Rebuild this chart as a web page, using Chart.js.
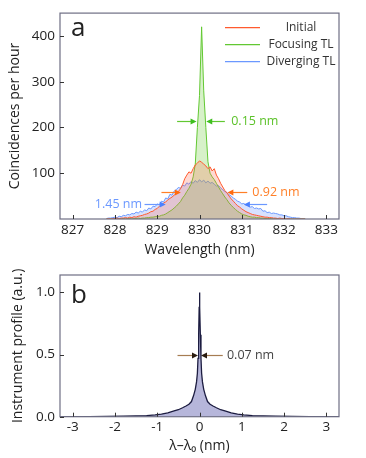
<!DOCTYPE html>
<html>
<head>
<meta charset="utf-8">
<script src="https://cdn.jsdelivr.net/npm/chart.js@4"></script>
<style>
  html, body { margin: 0; padding: 0; background: #fff; }
  #wrap { position: relative; width: 366px; height: 458px; }
  canvas { position: absolute; left: 0; }
  #chartA { top: 0; }
  #chartB { top: 258px; }
</style>
</head>
<body>
<div id="wrap">
  <canvas id="chartA" width="366" height="258"></canvas>
  <canvas id="chartB" width="366" height="200"></canvas>
</div>
<script>
// ---- panel a data (nm, coincidences per hour)
const wavelength = [
  827.80, 827.85, 827.90, 827.95,
  828.00, 828.05, 828.10, 828.15, 828.20, 828.25, 828.30, 828.35, 828.40, 828.45,
  828.50, 828.55, 828.60, 828.65, 828.70, 828.75, 828.80, 828.85, 828.90, 828.95,
  829.00, 829.05, 829.10, 829.15, 829.20, 829.25, 829.30, 829.35, 829.40, 829.45,
  829.50, 829.55, 829.60, 829.65, 829.70, 829.75, 829.80, 829.85, 829.90, 829.95,
  830.00, 830.05, 830.10, 830.15, 830.20, 830.25, 830.30, 830.35, 830.40, 830.45,
  830.50, 830.55, 830.60, 830.65, 830.70, 830.75, 830.80, 830.85, 830.90, 830.95,
  831.00, 831.05, 831.10, 831.15, 831.20, 831.25, 831.30, 831.35, 831.40, 831.45,
  831.50, 831.55, 831.60, 831.65, 831.70, 831.75, 831.80, 831.85, 831.90, 831.95,
  832.00, 832.05, 832.10, 832.15, 832.20,
  832.25, 832.30, 832.35, 832.40, 832.45, 832.50
];
const initial = [
  0, 1, 0, 1,
  1, 2, 1, 2, 2, 3, 2, 4, 3, 5,
  4, 6, 7, 8, 10, 11, 13, 16, 17, 21,
  23, 28, 30, 35, 37, 42, 45, 48, 52, 56,
  60, 66, 75, 88, 96, 103, 100, 110, 118, 122,
  127, 124, 120, 116, 110, 114, 105, 110, 96, 88,
  78, 70, 62, 57, 50, 44, 39, 34, 29, 26,
  22, 19, 16, 14, 12, 10, 9, 8, 7, 6,
  5, 4, 4, 3, 3, 2, 2, 1, 2, 1,
  1, 0, 1, 0, 0,
  0, 0, 0, 0, 0, 0
];
const focusing = [
  0, 0, 0, 0,
  0, 0, 1, 0, 1, 0, 1, 1, 0, 1,
  1, 2, 1, 2, 2, 3, 3, 4, 4, 5,
  6, 6, 8, 9, 11, 14, 17, 20, 24, 28,
  33, 38, 46, 52, 60, 67, 76, 92, 120, 200,
  270, 420, 280, 200, 125, 100, 92, 86, 78, 70,
  62, 55, 48, 42, 35, 30, 25, 21, 17, 14,
  11, 9, 8, 6, 5, 4, 4, 3, 3, 2,
  2, 1, 1, 1, 1, 0, 1, 0, 0, 1,
  0, 0, 0, 0, 0,
  0, 0, 0, 0, 0, 0
];
const diverging = [
  1, 2, 2, 3,
  4, 3, 6, 5, 8, 7, 10, 9, 12, 11,
  15, 13, 17, 15, 20, 18, 24, 22, 28, 27,
  33, 31, 39, 37, 46, 44, 54, 52, 61, 64,
  69, 67, 74, 72, 79, 76, 82, 78, 84, 80,
  86, 81, 85, 79, 83, 78, 80, 76, 72, 73,
  68, 64, 60, 58, 53, 50, 46, 43, 39, 37,
  33, 34, 30, 29, 26, 27, 23, 24, 22, 23,
  17, 18, 14, 15, 12, 13, 12, 11, 9, 9,
  7, 7, 5, 4, 3,
  3, 2, 2, 1, 1, 0
];
const xTicksA = [827, 828, 829, 830, 831, 832, 833];
const yTicksA = [100, 200, 300, 400];

// ---- panel b data (nm offset, normalised)
const offset = [
  -3.3, -3.0, -2.6, -2.2, -1.8, -1.5, -1.25, -1.05, -0.9, -0.75, -0.62, -0.5,
  -0.4, -0.32, -0.25, -0.19, -0.14, -0.1, -0.07, -0.05, -0.035, -0.02, -0.008, 0,
  0.008, 0.02, 0.035, 0.05, 0.07, 0.1, 0.14, 0.19, 0.25, 0.32, 0.4,
  0.5, 0.62, 0.75, 0.9, 1.05, 1.25, 1.5, 1.8, 2.2, 2.6, 3.0, 3.3
];
const profile = [
  0, 0, 0.001, 0.002, 0.004, 0.006, 0.009, 0.014, 0.02, 0.03, 0.045, 0.056,
  0.072, 0.086, 0.1, 0.122, 0.17, 0.22, 0.28, 0.35, 0.47, 0.66, 0.88, 1.0,
  0.88, 0.66, 0.47, 0.35, 0.28, 0.22, 0.17, 0.122, 0.1, 0.086, 0.072,
  0.056, 0.045, 0.03, 0.02, 0.014, 0.009, 0.006, 0.004, 0.002, 0.001, 0, 0
];
const xTicksB = [-3, -2, -1, 0, 1, 2, 3];
const yTicksB = [0, 0.5, 1.0];

const FONT = "'Open Sans', sans-serif";
const toXY = (xs, ys) => xs.map((x, i) => ({ x: x, y: ys[i] }));

// frame box + small inward ticks
const frameTicks = {
  id: 'frameTicks',
  afterDraw(chart) {
    const { ctx, chartArea: a, scales } = chart;
    ctx.save();
    ctx.strokeStyle = '#6e6e84';
    ctx.lineWidth = 1.2;
    ctx.strokeRect(a.left, a.top, a.right - a.left, a.bottom - a.top);
    ctx.strokeStyle = '#333';
    ctx.lineWidth = 1;
    ctx.beginPath();
    scales.x.ticks.forEach(t => {
      const px = Math.round(scales.x.getPixelForValue(t.value)) + 0.5;
      ctx.moveTo(px, a.bottom); ctx.lineTo(px, a.bottom - 4);
    });
    scales.y.ticks.forEach(t => {
      const py = Math.round(scales.y.getPixelForValue(t.value)) + 0.5;
      ctx.moveTo(a.left, py); ctx.lineTo(a.left + 4, py);
    });
    ctx.stroke();
    ctx.restore();
  }
};

// panel letter
const panelLetter = {
  id: 'panelLetter',
  afterDraw(chart, args, opts) {
    const { ctx, chartArea: a } = chart;
    ctx.save();
    ctx.font = '26px ' + FONT;
    ctx.fillStyle = '#222';
    ctx.textBaseline = 'alphabetic';
    ctx.fillText(opts.text, a.left + 11, a.top + opts.dy);
    ctx.restore();
  }
};

function arrow(ctx, x0, x1, y, lineColor, headColor) {
  const dir = x1 > x0 ? 1 : -1;
  ctx.strokeStyle = lineColor;
  ctx.lineWidth = 1.2;
  ctx.beginPath();
  ctx.moveTo(x0, y); ctx.lineTo(x1 - dir * 3, y);
  ctx.stroke();
  ctx.fillStyle = headColor;
  ctx.beginPath();
  ctx.moveTo(x1, y);
  ctx.lineTo(x1 - dir * 6, y - 3);
  ctx.lineTo(x1 - dir * 6, y + 3);
  ctx.closePath();
  ctx.fill();
}

// FWHM markers: arrows in data units through the chart scales
const fwhmMarks = {
  id: 'fwhmMarks',
  afterDraw(chart, args, opts) {
    const { ctx, scales: { x, y } } = chart;
    ctx.save();
    opts.items.forEach(m => {
      const py = Math.round(y.getPixelForValue(m.level)) + 0.5;
      arrow(ctx, x.getPixelForValue(m.left[0]), x.getPixelForValue(m.left[1]), py, m.line, m.head);
      arrow(ctx, x.getPixelForValue(m.right[0]), x.getPixelForValue(m.right[1]), py, m.line, m.head);
      ctx.font = '12.5px ' + FONT;
      ctx.fillStyle = m.textColor;
      ctx.textBaseline = 'middle';
      ctx.textAlign = m.align;
      ctx.fillText(m.text, x.getPixelForValue(m.textAt), py);
    });
    ctx.restore();
  }
};

// legend drawn inside the top-right corner
const insideLegend = {
  id: 'insideLegend',
  afterDraw(chart) {
    const { ctx, chartArea: a } = chart;
    ctx.save();
    ctx.font = '12px ' + FONT;
    ctx.textBaseline = 'middle';
    ctx.textAlign = 'center';
    chart.data.datasets.forEach((ds, i) => {
      const py = a.top + 14.5 + i * 17;
      ctx.strokeStyle = ds.borderColor;
      ctx.lineWidth = 1.2;
      ctx.beginPath();
      ctx.moveTo(a.right - 114, py); ctx.lineTo(a.right - 79, py);
      ctx.stroke();
      ctx.fillStyle = '#333';
      ctx.fillText(ds.label, a.right - 38, py);
    });
    ctx.restore();
  }
};

const tickFont = { family: FONT, size: 13.5 };
const titleFont = { family: FONT, size: 14 };

function setTicks(list) {
  return scale => { scale.ticks = list.map(v => ({ value: v })); };
}

new Chart(document.getElementById('chartA'), {
  type: 'line',
  data: {
    datasets: [
      {
        label: 'Initial',
        data: toXY(wavelength, initial),
        borderColor: '#ff5a2e',
        backgroundColor: 'rgba(255,110,80,0.26)',
        borderWidth: 1,
        fill: 'origin',
        pointRadius: 0,
        tension: 0
      },
      {
        label: 'Focusing TL',
        data: toXY(wavelength, focusing),
        borderColor: '#62c832',
        backgroundColor: 'rgba(110,205,60,0.28)',
        borderWidth: 1,
        fill: 'origin',
        pointRadius: 0,
        tension: 0
      },
      {
        label: 'Diverging TL',
        data: toXY(wavelength, diverging),
        borderColor: '#6b98ff',
        backgroundColor: 'rgba(110,150,255,0.28)',
        borderWidth: 1,
        fill: 'origin',
        pointRadius: 0,
        tension: 0
      }
    ]
  },
  options: {
    responsive: false,
    animation: false,
    layout: { padding: { top: 10, right: 27, left: 0, bottom: 0 } },
    plugins: {
      legend: { display: false },
      tooltip: { enabled: false },
      panelLetter: { text: 'a', dy: 23 },
      fwhmMarks: {
        items: [
          { level: 215, left: [829.47, 829.93], right: [830.6, 830.16], line: '#62c832', head: '#3fbf1f',
            text: '0.15 nm', textAt: 830.75, align: 'left', textColor: '#5cc22a' },
          { level: 58, left: [829.1, 829.56], right: [831.13, 830.66], line: '#ff7f27', head: '#ff6a10',
            text: '0.92 nm', textAt: 831.25, align: 'left', textColor: '#ff7f27' },
          { level: 32, left: [828.7, 829.2], right: [831.6, 831.05], line: '#6b98ff', head: '#4a80ff',
            text: '1.45 nm', textAt: 828.64, align: 'right', textColor: '#6b98ff' }
        ]
      }
    },
    scales: {
      x: {
        type: 'linear',
        min: 826.7,
        max: 833.3,
        afterBuildTicks: setTicks(xTicksA),
        grid: { display: false, drawTicks: false },
        border: { display: false },
        ticks: { font: tickFont, color: '#222', padding: 3, maxRotation: 0, callback: v => String(v) },
        title: { display: true, text: 'Wavelength (nm)', font: titleFont, color: '#222', padding: { top: 0, bottom: 0 } }
      },
      y: {
        min: 0,
        max: 450,
        afterBuildTicks: setTicks(yTicksA),
        afterFit: s => { s.width = 60; },
        grid: { display: false, drawTicks: false },
        border: { display: false },
        ticks: { font: tickFont, color: '#222', padding: 5 },
        title: { display: true, text: 'Coincidences per hour', font: titleFont, color: '#222', padding: { top: 7, bottom: 0 } }
      }
    }
  },
  plugins: [frameTicks, panelLetter, fwhmMarks, insideLegend]
});

new Chart(document.getElementById('chartB'), {
  type: 'line',
  data: {
    datasets: [
      {
        label: 'Instrument profile',
        data: toXY(offset, profile),
        borderColor: '#1c1c40',
        backgroundColor: '#b6b6da',
        borderWidth: 1.3,
        fill: 'origin',
        pointRadius: 0,
        tension: 0
      }
    ]
  },
  options: {
    responsive: false,
    animation: false,
    layout: { padding: { top: 17, right: 27, left: 0, bottom: 0 } },
    plugins: {
      legend: { display: false },
      tooltip: { enabled: false },
      panelLetter: { text: 'b', dy: 28 },
      fwhmMarks: {
        items: [
          { level: 0.5, left: [-0.52, -0.035], right: [0.55, 0.035], line: '#a67c52', head: '#2a1c10',
            text: '0.07 nm', textAt: 0.65, align: 'left', textColor: '#444' }
        ]
      }
    },
    scales: {
      x: {
        type: 'linear',
        min: -3.3,
        max: 3.3,
        afterBuildTicks: setTicks(xTicksB),
        grid: { display: false, drawTicks: false },
        border: { display: false },
        ticks: { font: tickFont, color: '#222', padding: 2.2, maxRotation: 0, callback: v => String(v) },
        title: { display: true, text: 'λ–λ₀ (nm)', font: titleFont, color: '#222', padding: { top: 0.3, bottom: 3.6 } }
      },
      y: {
        min: 0,
        max: 1.14,
        afterBuildTicks: setTicks(yTicksB),
        afterFit: s => { s.width = 60; },
        grid: { display: false, drawTicks: false },
        border: { display: false },
        ticks: { font: tickFont, color: '#222', padding: 5, callback: v => v.toFixed(1) },
        title: { display: true, text: 'Instrument profile (a.u.)', font: titleFont, color: '#222', padding: { top: 10, bottom: 0 } }
      }
    }
  },
  plugins: [frameTicks, panelLetter, fwhmMarks]
});
</script>
</body>
</html>
